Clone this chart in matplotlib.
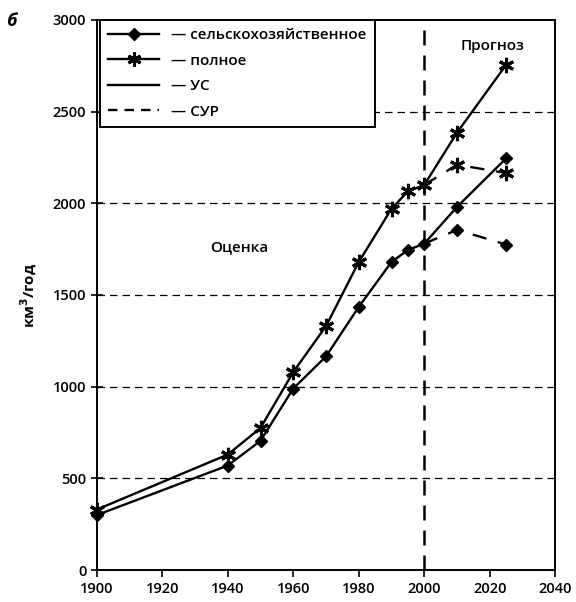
import matplotlib
matplotlib.use("Agg")
import matplotlib.pyplot as plt
from matplotlib.lines import Line2D

plt.rcParams['font.family'] = ['Open Sans', 'DejaVu Sans']
plt.rcParams['font.weight'] = 'semibold'

# Assessment period and "УС" projection
years = [1900, 1940, 1950, 1960, 1970, 1980, 1990, 1995, 2000, 2010, 2025]
agri = [300, 570, 705, 990, 1165, 1435, 1680, 1745, 1780, 1980, 2245]
total = [330, 630, 775, 1080, 1330, 1680, 1970, 2065, 2100, 2385, 2755]

# "СУР" projection branching from 2000
years_sur = [2000, 2010, 2025]
agri_sur = [1780, 1855, 1775]
total_sur = [2100, 2210, 2165]

x_ticks = [1900, 1920, 1940, 1960, 1980, 2000, 2020, 2040]
y_ticks = [0, 500, 1000, 1500, 2000, 2500, 3000]

legend_labels = ['— сельскохозяйственное', '— полное', '— УС', '— СУР']

fig = plt.figure(figsize=(5.76, 6.02), dpi=100)
ax = fig.add_axes([0.168, 0.053, 0.796, 0.914])

for y in y_ticks[1:-1]:
    ax.axhline(y, color='black', lw=0.9, ls=(0, (6, 4)), zorder=1)
ax.axvline(2000, color='black', lw=1.8, ls=(0, (6, 4)), zorder=1)

ax.plot(years, agri, color='black', lw=1.7, marker='D', ms=6.5, zorder=3,
        clip_on=False)
ax.plot(years, total, color='black', lw=1.7, marker=(6, 2, 0), ms=11,
        mew=2.2, zorder=3, clip_on=False)
ax.plot(years_sur, agri_sur, color='black', lw=1.7, ls=(0, (6, 5)),
        marker='D', ms=6.5, zorder=3, markevery=[1, 2])
ax.plot(years_sur, total_sur, color='black', lw=1.7, ls=(0, (6, 5)),
        marker=(6, 2, 0), ms=11, mew=2.2, zorder=3, markevery=[1, 2])

ax.set_xlim(1900, 2040)
ax.set_ylim(0, 3000)
ax.set_xticks(x_ticks)
ax.set_yticks(y_ticks)
ax.tick_params(axis='both', labelsize=10.5, width=1.2, length=5)
ax.tick_params(axis='y', direction='inout', length=8)
for s in ax.spines.values():
    s.set_linewidth(1.4)

ax.set_ylabel('км$^3$/год', fontsize=11, fontweight='bold', labelpad=10)

ax.text(1943.5, 1760, 'Оценка', fontsize=11, ha='center', va='center')
ax.text(2021, 2860, 'Прогноз', fontsize=11, ha='center', va='center')
fig.text(0.01, 0.965, 'б', fontsize=13, fontstyle='italic', fontweight='bold',
         ha='left', va='center')

handles = [
    Line2D([], [], color='black', lw=1.7, marker='D', ms=6.5),
    Line2D([], [], color='black', lw=1.7, marker=(6, 2, 0), ms=10, mew=2.2),
    Line2D([], [], color='black', lw=1.7),
    Line2D([], [], color='black', lw=1.7, ls=(0, (4, 3))),
]
leg = ax.legend(handles, legend_labels, loc='upper left',
                bbox_to_anchor=(0.007, 1.0), fontsize=11, handlelength=3.3,
                handletextpad=0.8, frameon=True, fancybox=False,
                edgecolor='black', borderaxespad=0.0, labelspacing=0.75,
                borderpad=0.55)
leg.get_frame().set_linewidth(1.4)
leg.get_frame().set_alpha(1)

fig.savefig('out.png', dpi=100, facecolor='white')
